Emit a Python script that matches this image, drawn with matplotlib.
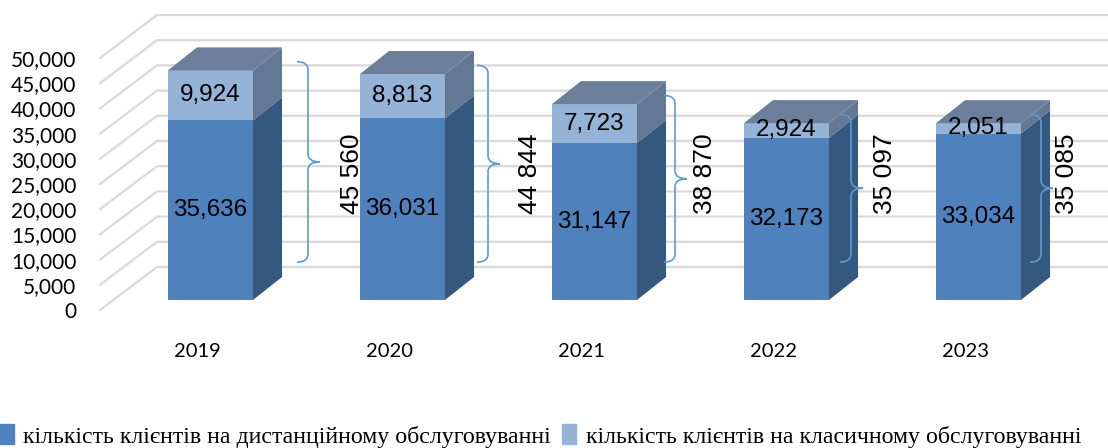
import numpy as np
import matplotlib
matplotlib.use('Agg')
from matplotlib import pyplot as plt
from matplotlib.patches import Polygon, Patch, PathPatch
from matplotlib.path import Path

years = ['2019', '2020', '2021', '2022', '2023']
remote = [35636, 36031, 31147, 32173, 33034]   # кількість клієнтів на дистанційному обслуговуванні
classic = [9924, 8813, 7723, 2924, 2051]      # кількість клієнтів на класичному обслуговуванні
totals = ['45 560', '44 844', '38 870', '35 097', '35 085']
y_ticks = [0, 5000, 10000, 15000, 20000, 25000, 30000, 35000, 40000, 45000, 50000]
series_names = ['кількість клієнтів на дистанційному обслуговуванні',
                'кількість клієнтів на класичному обслуговуванні']

# colours
c_front_dark, c_side_dark = '#4f81bd', '#34587e'
c_front_light, c_side_light, c_top = '#95b3d7', '#627894', '#6b7f9b'
c_grid = '#d9d9d9'
c_brace = '#5b9bd5'

# pixel -> data scale of the front floor plane
PX_X = 1 / 192.0
PX_Y = 1 / 0.00504


def off(dx_px, dy_px):
    return dx_px * PX_X, dy_px * PX_Y


wall_dx, wall_dy = off(57, 43)
front_dx, front_dy = off(13, 10)
back_dx, back_dy = off(42, 33)
bar_w = 85 * PX_X

W, H = 1108, 448
fig = plt.figure(figsize=(W / 100, H / 100), dpi=100)
ax = fig.add_axes([100 / W, (H - 310) / H, (W - 100) / W, 310 / H])
ax.set_xlim(-97.5 / 192, (W - 100 - 97.5) / 192)
ax.set_ylim(0, 310 * PX_Y)
for s in ax.spines.values():
    s.set_visible(False)

x = np.arange(len(years))
remote = np.array(remote)
classic = np.array(classic)
total = remote + classic

# grid: left wall diagonals + back wall lines
x_left = ax.get_xlim()[0]
x_right = ax.get_xlim()[1]
for v in y_ticks:
    ax.plot([x_left, x_left + wall_dx, x_right], [v, v + wall_dy, v + wall_dy],
            color=c_grid, lw=1.6, zorder=0, clip_on=False, solid_joinstyle='miter')

# bars (front faces)
ax.bar(x + front_dx, remote, width=bar_w, bottom=front_dy, color=c_front_dark, zorder=2)
ax.bar(x + front_dx, classic, width=bar_w, bottom=front_dy + remote, color=c_front_light, zorder=2)


def side(xc, y0, y1, color):
    xr_f = xc + front_dx + bar_w / 2
    xr_b = xc + back_dx + bar_w / 2
    pts = [(xr_f, front_dy + y0), (xr_b, back_dy + y0), (xr_b, back_dy + y1), (xr_f, front_dy + y1)]
    ax.add_patch(Polygon(pts, closed=True, color=color, zorder=2, lw=0))


for i in range(len(years)):
    side(x[i], 0, remote[i], c_side_dark)
    side(x[i], remote[i], total[i], c_side_light)
    t = total[i]
    pts = [(x[i] + front_dx - bar_w / 2, front_dy + t), (x[i] + front_dx + bar_w / 2, front_dy + t),
           (x[i] + back_dx + bar_w / 2, back_dy + t), (x[i] + back_dx - bar_w / 2, back_dy + t)]
    ax.add_patch(Polygon(pts, closed=True, color=c_top, zorder=2, lw=0))
    # value labels
    ax.text(x[i] + front_dx, front_dy + remote[i] / 2, f'{remote[i]:,}', ha='center', va='center',
            fontsize=17.5, family='Liberation Sans', zorder=5)
    ax.text(x[i] + front_dx, front_dy + remote[i] + classic[i] / 2, f'{classic[i]:,}', ha='center',
            va='center', fontsize=17.5, family='Liberation Sans', zorder=5)

# braces with totals
brace_px = [44, 32, 27, 11, 9]      # brace offset from bar's front right edge, px
label_px = [99, 85, 68, 56, 46]     # total label offset, px
label_y = 27000
for i in range(len(years)):
    xr = x[i] + front_dx + bar_w / 2
    x0 = xr + brace_px[i] * PX_X
    x1 = x0 + 11 * PX_X
    x2 = x1 + 12 * PX_X
    top = total[i] + 3700
    bot = 9500
    mid = (top + bot) / 2
    r = 8 * PX_Y
    verts = [(x0, top), (x1, top), (x1, top - r),
             (x1, mid + r), (x1, mid), (x2, mid),
             (x1, mid), (x1, mid - r),
             (x1, bot + r), (x1, bot), (x0, bot)]
    codes = [Path.MOVETO, Path.CURVE3, Path.CURVE3,
             Path.LINETO, Path.CURVE3, Path.CURVE3,
             Path.CURVE3, Path.CURVE3,
             Path.LINETO, Path.CURVE3, Path.CURVE3]
    ax.add_patch(PathPatch(Path(verts, codes), fill=False, edgecolor=c_brace, lw=1.2, zorder=4,
                           clip_on=False))
    ax.text(xr + label_px[i] * PX_X, label_y, totals[i], rotation=90, ha='center', va='center',
            fontsize=19, family='Liberation Sans', zorder=5)

ax.set_yticks(y_ticks)
ax.set_yticklabels([f'{v:,}' for v in y_ticks], fontsize=15, family='Lato')
ax.set_xticks(x)
ax.set_xticklabels(years, fontsize=14.5, family='Lato')
ax.tick_params(axis='y', length=0, pad=17)
ax.tick_params(axis='x', length=0, pad=24)

handles = [Patch(color=c_front_dark), Patch(color=c_front_light)]
fig.legend(handles, series_names, loc='center left', bbox_to_anchor=(-22 / W, 12 / H), ncol=2,
           frameon=False, handlelength=0.6, handleheight=0.9, handletextpad=0.4, columnspacing=0.45,
           prop={'family': 'Liberation Serif', 'size': 17.2})

fig.savefig('out.png', dpi=100)
